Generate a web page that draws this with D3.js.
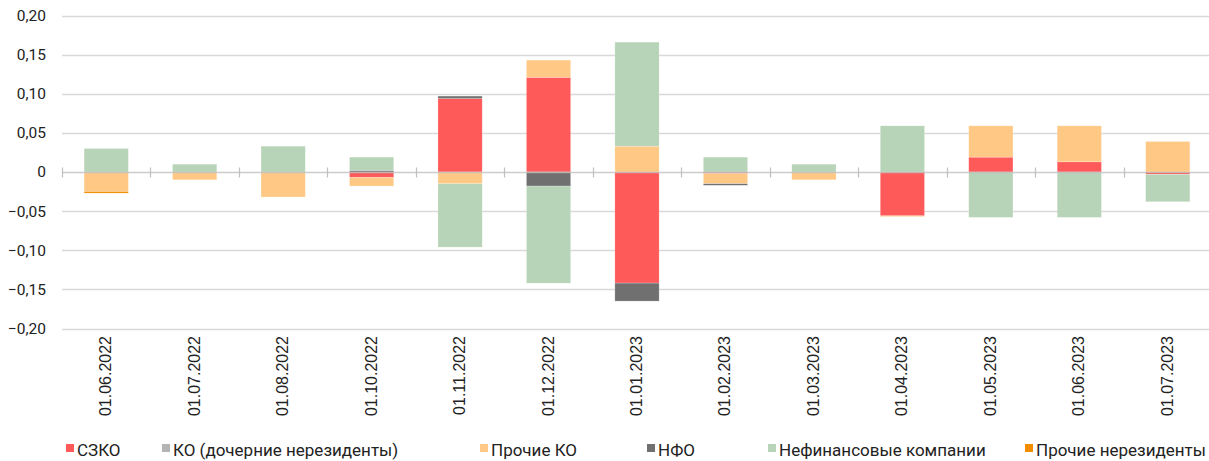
<!DOCTYPE html>
<html>
<head>
<meta charset="utf-8">
<script src="https://cdn.jsdelivr.net/npm/d3@7"></script>
<style>
  html, body { margin: 0; padding: 0; background: #fff; }
  svg { display: block; }
  .ytick text { font-family: Roboto, "Noto Sans", sans-serif; font-size: 15.5px; fill: #222; }
  .xlab { font-family: "Liberation Sans", Arial, sans-serif; font-size: 16px; fill: #222; }
  .leg text { font-family: Roboto, "Noto Sans", sans-serif; font-size: 17px; fill: #222; }
</style>
</head>
<body>
<svg id="chart" width="1209" height="461"></svg>
<script>
// Reporting dates
const dates = ["01.06.2022","01.07.2022","01.08.2022","01.10.2022","01.11.2022","01.12.2022",
               "01.01.2023","01.02.2023","01.03.2023","01.04.2023","01.05.2023","01.06.2023","01.07.2023"];

// Contributions by holder group
const szko        = [0, 0, 0, -0.007, 0.094, 0.121, -0.142, -0.002, 0, -0.056, 0.019, 0.013, -0.003];
const koSubsid    = [0, 0, 0, 0, 0, 0, 0, 0, 0, 0, 0, 0, 0];
const otherKO     = [-0.025, -0.010, -0.032, -0.011, -0.015, 0.022, 0.033, -0.013, -0.010, -0.001, 0.040, 0.046, 0.039];
const nfo         = [0, 0, 0, 0.002, 0.003, -0.018, -0.023, -0.002, 0, 0, 0, 0, 0];
const nonFinCorp  = [0.030, 0.010, 0.033, 0.017, -0.081, -0.124, 0.133, 0.019, 0.010, 0.059, -0.058, -0.058, -0.035];
const otherNonres = [-0.002, 0, 0, 0, 0, 0, 0, 0, 0, 0, 0, 0, 0];

const seriesNames  = ["СЗКО", "КО (дочерние нерезиденты)", "Прочие КО", "НФО", "Нефинансовые компании", "Прочие нерезиденты"];
const seriesValues = [szko, koSubsid, otherKO, nfo, nonFinCorp, otherNonres];
const seriesColors = ["#FF5A5A", "#B4B4B4", "#FFC985", "#707070", "#B8D4B8", "#F28C00"];

const yTicks = [0.20, 0.15, 0.10, 0.05, 0, -0.05, -0.10, -0.15, -0.20];

const svg = d3.select("#chart");

const x = d3.scaleBand().domain(dates).range([62, 1212]).paddingInner(0.5).paddingOuter(0.25);
const y = d3.scaleLinear().domain([-0.20, 0.20]).range([328.5, 15.5]);

const fmt = v => v === 0 ? "0" : d3.format(".2f")(v).replace(".", ",");

// Horizontal gridlines and value labels
const yg = svg.append("g");
yTicks.forEach(t => {
  const g = yg.append("g").attr("class", "ytick");
  if (t !== 0) {
    g.append("line").attr("x1", 62).attr("x2", 1209)
      .attr("y1", Math.round(y(t)) + 0.5).attr("y2", Math.round(y(t)) + 0.5)
      .attr("stroke", "#D9D9D9").attr("stroke-width", 1.3);
  }
  g.append("text").attr("x", 46).attr("y", y(t)).attr("dy", "0.35em")
    .attr("text-anchor", "end").text(fmt(t));
});

// Stacked bars (positive and negative parts stacked separately)
const rows = dates.map((d, i) => {
  const r = { date: d };
  seriesNames.forEach((s, k) => r[s] = seriesValues[k][i]);
  return r;
});
const stack = d3.stack().keys(seriesNames).offset(d3.stackOffsetDiverging);
const layers = stack(rows);

svg.append("g").selectAll("g").data(layers).join("g")
  .attr("fill", (d, i) => seriesColors[i])
  .selectAll("rect").data(d => d).join("rect")
  .attr("x", d => x(d.data.date))
  .attr("width", x.bandwidth())
  .attr("y", d => y(Math.max(d[0], d[1])))
  .attr("height", d => Math.abs(y(d[0]) - y(d[1])))
  .attr("stroke", "#fff").attr("stroke-opacity", 0.35).attr("stroke-width", 0.6);

// Zero axis with category separators
const zy = Math.round(y(0)) + 0.5;
const ax = svg.append("g");
ax.append("line").attr("x1", 62).attr("x2", 1209).attr("y1", zy).attr("y2", zy)
  .attr("stroke", "#BFBFBF").attr("stroke-width", 1.3).attr("stroke-opacity", 0.8);
const step = x.step();
d3.range(dates.length + 1).forEach(i => {
  const xx = Math.round(62 + i * step) + 0.5;
  if (xx > 1209) return;
  ax.append("line").attr("x1", xx).attr("x2", xx).attr("y1", zy - 5).attr("y2", zy + 5)
    .attr("stroke", "#BFBFBF").attr("stroke-width", 1.2);
});

// Rotated date labels
svg.append("g").selectAll("text").data(dates).join("text")
  .attr("class", "xlab")
  .attr("transform", d => `translate(${x(d) + x.bandwidth() / 2 + 5},336) rotate(-90)`)
  .attr("text-anchor", "end")
  .text(d => d);

// Legend
const legX = [66, 162, 480, 647, 768, 1025];
const leg = svg.append("g").attr("class", "leg");
seriesNames.forEach((s, i) => {
  leg.append("rect").attr("x", legX[i]).attr("y", 444).attr("width", 8).attr("height", 8)
    .attr("fill", seriesColors[i]);
  leg.append("text").attr("x", legX[i] + 11).attr("y", 456).text(s);
});
</script>
</body>
</html>
